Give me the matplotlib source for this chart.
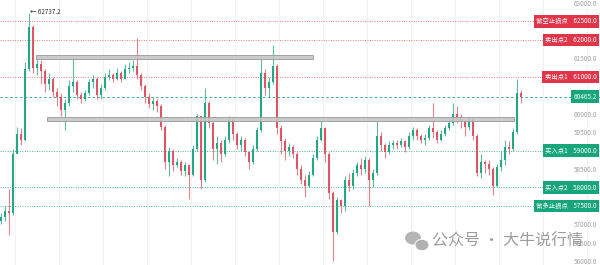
import matplotlib
matplotlib.use("Agg")
import matplotlib.pyplot as plt
import numpy as np
from matplotlib.patches import Rectangle, Ellipse

plt.rcParams['font.family'] = ['Noto Sans CJK SC', 'DejaVu Sans']

# candle data
opens = [57100, 57200, 57350, 57300, 58900, 59450, 59300, 61200, 62350, 61250,
         61350, 61150, 60800, 60950, 60600, 60450, 60100, 60300, 60750, 60850,
         60500, 60400, 60550, 60850, 60950, 60500, 60700, 61000, 61050, 60950,
         61100, 60950, 61200, 61250, 61300, 61050, 60750, 60450, 60250, 60350,
         60200, 59650, 58700, 59000, 58600, 58700, 58450, 58600, 58350, 59050,
         59950, 58200, 60300, 59750, 59050, 59200, 58900, 59300, 59850, 59450,
         59150, 59300, 58950, 58700, 59050, 59550, 61100, 60700, 60850, 61300,
         59600, 59250, 59000, 59100, 58900, 58500, 58200, 58050, 58350, 58800,
         59300, 59600, 58900, 57850, 56800, 57650, 57500, 58200, 58050, 58400,
         58600, 58500, 58750, 58200, 58400, 59400, 59150, 58950, 59150, 59200,
         59150, 59250, 59100, 59400, 59550, 59400, 59300, 59350, 59600, 59500,
         59300, 59450, 59600, 59750, 60000, 59900, 59800, 59650, 59850, 59400,
         58400, 58700, 58650, 58500, 58050, 58550, 58750, 59100, 59050, 59500,
         60550]
closes = [57200, 57350, 57300, 58900, 59450, 59300, 61200, 62350, 61250, 61350,
          61150, 60800, 60950, 60600, 60450, 60100, 60300, 60750, 60850, 60500,
          60400, 60550, 60850, 60950, 60500, 60700, 61000, 61050, 60950, 61100,
          60950, 61200, 61250, 61300, 61050, 60750, 60450, 60250, 60350, 60200,
          59650, 58700, 59000, 58600, 58700, 58450, 58600, 58350, 59050, 59950,
          58200, 60300, 59750, 59050, 59200, 58900, 59300, 59850, 59450, 59150,
          59300, 58950, 58700, 59050, 59550, 61100, 60700, 60850, 61300, 59600,
          59250, 59000, 59100, 58900, 58500, 58200, 58050, 58350, 58800, 59300,
          59600, 58900, 57850, 56800, 57650, 57500, 58200, 58050, 58400, 58600,
          58500, 58750, 58200, 58400, 59400, 59150, 58950, 59150, 59200, 59150,
          59250, 59100, 59400, 59550, 59400, 59300, 59350, 59600, 59500, 59300,
          59450, 59600, 59750, 60000, 59900, 59800, 59650, 59850, 59400, 58400,
          58700, 58650, 58500, 58050, 58550, 58750, 59100, 59050, 59500, 60550,
          60465.2]
highs = [57300, 57500, 57950, 59050, 59650, 59600, 61400, 62737.2, 62400, 61500,
         61450, 61200, 61100, 61000, 60700, 60550, 60400, 60900, 61500, 60900,
         60600, 60650, 60950, 61050, 61000, 60800, 61100, 61200, 61100, 61250,
         61150, 61350, 61400, 61450, 62050, 61100, 60800, 60550, 60450, 60400,
         60250, 59700, 59100, 59050, 58800, 58750, 58700, 58650, 59150, 60000,
         59950, 60700, 60350, 59800, 59400, 59300, 59400, 59950, 59900, 59500,
         59400, 59350, 59000, 59150, 59650, 61550, 61200, 61000, 61850, 61350,
         59700, 59350, 59200, 59150, 58950, 58600, 58350, 58450, 58900, 59400,
         59800, 59650, 58950, 57900, 57750, 57700, 58300, 58400, 58500, 58700,
         58800, 58850, 58800, 58500, 59800, 59500, 59200, 59250, 59300, 59300,
         59350, 59300, 59500, 59650, 59600, 59450, 59450, 59700, 60300, 59550,
         59550, 59700, 59850, 60300, 60200, 60000, 59850, 59900, 59850, 59450,
         58900, 58750, 58750, 58550, 58650, 59000, 59300, 59250, 59600, 60950,
         60650]
lows = [57000, 57100, 56700, 57250, 58950, 59150, 59250, 61150, 61100, 61050,
        60800, 60600, 60650, 60450, 60200, 59950, 59550, 60200, 60600, 60400,
        60300, 60350, 60500, 60700, 60400, 60400, 60650, 60900, 60850, 60900,
        60850, 60950, 61100, 61150, 60950, 60650, 60300, 60150, 60100, 60050,
        59550, 58500, 58300, 58450, 58550, 58350, 58300, 57700, 58300, 59000,
        57950, 58150, 59600, 58750, 58650, 58700, 58850, 59200, 59300, 59050,
        59000, 58850, 58500, 58650, 59000, 59500, 60500, 60450, 60800, 59450,
        58900, 58750, 58850, 58800, 58350, 58100, 57750, 58000, 58300, 58750,
        59250, 58700, 57700, 56000, 56750, 57300, 57350, 57900, 57950, 58300,
        58350, 58400, 57500, 58000, 58350, 59000, 58800, 58900, 59050, 59050,
        59100, 58950, 59050, 59300, 59300, 59200, 59150, 59300, 59350, 59200,
        59250, 59400, 59550, 59700, 59750, 59600, 59400, 59550, 59300, 58300,
        58250, 58400, 58350, 57800, 58000, 58450, 58600, 58900, 59000, 59450,
        60300]

# horizontal levels
level_names = ['做空止损点', '卖出点2', '卖出点1', '买入点1', '买入点2', '做多止损点']
level_prices = [62500, 62000, 61000, 59000, 58000, 57500]
level_sides = ['sell', 'sell', 'sell', 'buy', 'buy', 'buy']
last_price = 60465.2
high_price = 62737.2
high_idx = 7

# price scale labels not hidden under a badge
tick_prices = [56000, 56500, 57000, 58500, 59500, 60000, 61500, 63000]

# consolidation boxes
box_starts = [8.75, 11.5]
box_ends = [78.0, 128.25]
box_lows = [61470, 59800]
box_highs = [61580, 59910]

GREEN = '#22a884'
RED = '#e05563'
BADGE_RED = '#e03448'
BADGE_GREEN = '#17a57a'

fig = plt.figure(figsize=(6.0, 2.65), dpi=100)
ax = fig.add_axes([0, 0, 1, 1])

n = len(closes)
x = np.arange(n)
o = np.array(opens)
c = np.array(closes)
colors = [GREEN if cc >= oo else RED for oo, cc in zip(o, c)]

# faint vertical grid
for gx in np.arange(3.5, 150, 11):
    ax.axvline(gx, color='#f1f3f1', lw=0.8, zorder=0)

ax.vlines(x, lows, highs, colors=colors, lw=0.8, alpha=0.75, zorder=2)
ax.bar(x, np.abs(c - o), bottom=np.minimum(o, c), width=2.5 / 4,
       color=colors, edgecolor='none', zorder=3)

# boxes
for xs, xe, lo, hi in zip(box_starts, box_ends, box_lows, box_highs):
    ax.add_patch(Rectangle((xs, lo), xe - xs, hi - lo, facecolor='#c6c6c6',
                           edgecolor='#9c9c9c', lw=0.7, alpha=0.9, zorder=4))

# level lines and badges
for name, price, side in zip(level_names, level_prices, level_sides):
    lc = '#e77a86' if side == 'sell' else '#4db89c'
    bc = BADGE_RED if side == 'sell' else BADGE_GREEN
    ax.axhline(price, color=lc, lw=0.7, ls=(0, (1, 1.5)), zorder=1)
    ax.text(0.994, price, f'{name}    {price:.1f}', transform=ax.get_yaxis_transform(),
            ha='right', va='center', fontsize=4.6, color='white', zorder=10,
            bbox=dict(boxstyle='square,pad=0.35', fc=bc, ec='none'))

ax.axhline(last_price, color='#3aae8e', lw=0.7, ls=(0, (2.5, 2.5)), zorder=1)
ax.text(0.994, last_price, f'{last_price:.1f}', transform=ax.get_yaxis_transform(),
        ha='right', va='center', fontsize=4.6, color='white', zorder=10,
        bbox=dict(boxstyle='square,pad=0.35', fc=BADGE_GREEN, ec='none'))

ax.text(high_idx + 0.3, high_price + 10, f'← {high_price:.1f}', ha='left', va='center',
        fontsize=4.6, color='#333333', zorder=6)

# axes
ax.set_xlim(-0.25, 149.75)
ax.set_ylim(55900, 63080)
ax.set_xticks([])
ax.set_yticks(tick_prices)
ax.set_yticklabels([f'{v:.1f}' for v in tick_prices])
ax.yaxis.tick_right()
ax.tick_params(axis='y', length=0, pad=-2, labelsize=4.6, labelcolor='#a0a0a0')
for lab in ax.get_yticklabels():
    lab.set_ha('right')
for s in ax.spines.values():
    s.set_visible(False)

# watermark
fig.patches.append(Ellipse((413 / 600, 1 - 238 / 265), 16 / 600, 13 / 265,
                           transform=fig.transFigure, fc='#a8a8a8', alpha=0.85, zorder=20))
fig.patches.append(Ellipse((422 / 600, 1 - 245 / 265), 14 / 600, 11.5 / 265,
                           transform=fig.transFigure, fc='#a8a8a8', ec='white', lw=0.8,
                           alpha=0.9, zorder=21))
fig.text(432 / 600, 1 - 241 / 265, '公众号 · 大牛说行情', fontsize=11.5, color='#8c8c8c',
         alpha=0.85, ha='left', va='center', zorder=22)

fig.savefig('out.png', dpi=100)
